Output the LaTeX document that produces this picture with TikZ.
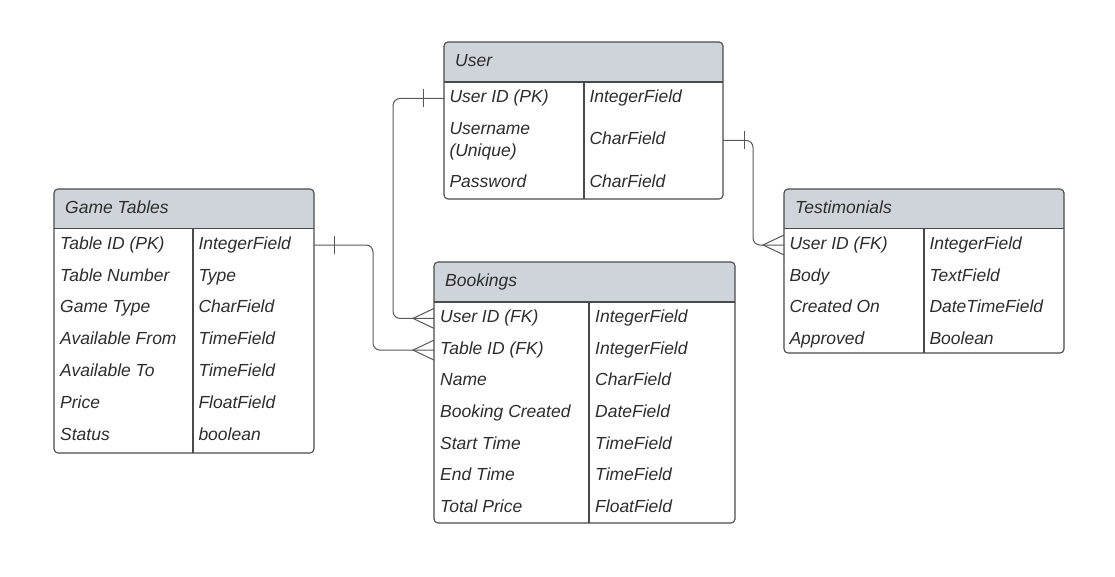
\documentclass[tikz,border=0pt]{standalone}
\usepackage{fontspec}
\setmainfont{Liberation Sans}
\usetikzlibrary{calc}

\definecolor{hdrfill}{RGB}{207,212,219}
\definecolor{boxline}{RGB}{74,74,74}
\definecolor{linkline}{RGB}{88,88,88}
\definecolor{txt}{RGB}{45,45,45}

\tikzset{
  tablebox/.style={rectangle, inner sep=0pt, outer sep=0pt},
  border/.style={draw=boxline, line width=1.1pt},
  cell/.style={anchor=west, inner sep=0pt, text height=12pt, text depth=3.5pt,
               text=txt, font=\fontsize{17.5}{21.5}\selectfont\itshape},
  multicell/.style={anchor=base west, inner sep=0pt, align=left,
               text=txt, font=\fontsize{17.5}{21.5}\selectfont\itshape},
  link/.style={draw=linkline, line width=1pt, rounded corners=7pt},
}

% one entity box: name, NW corner, width, height, header height, divider offset, title
\newcommand\ertable[7]{%
  \node[tablebox, minimum width=#3, minimum height=#4, anchor=north west] (#1) at #2 {};
  \begin{scope}
    \clip[rounded corners=4pt] (#1.north west) rectangle (#1.south east);
    \fill[hdrfill] (#1.north west) rectangle ([yshift=-#5]#1.north east);
  \end{scope}
  \draw[border] ([yshift=-#5]#1.north west) -- ([yshift=-#5]#1.north east);
  \draw[border] ([xshift=#6,yshift=-#5]#1.north west) -- ([xshift=#6]#1.south west);
  \draw[border, rounded corners=4pt] (#1.north west) rectangle (#1.south east);
  \node[cell] (#1-title) at ([xshift=11pt,yshift=-20pt]#1.north west) {#7};
}

% one attribute row: name, field x, type x, y, field, type
\newcommand\errow[6]{%
  \node[cell] (#1) at (#2,#4) {#5};
  \node[cell] (#1-type) at (#3,#4) {#6};
}

% many-side end of a relationship, ending at the given coordinate
\newcommand\crowsfoot[1]{%
  \draw[link, rounded corners=0pt] ([yshift=10pt]#1) -- ([xshift=-21pt]#1) -- ([yshift=-10pt]#1);
}
% one-side bar, drawn across a connector at the given coordinate
\newcommand\onebar[1]{%
  \draw[link, rounded corners=0pt] ([yshift=9pt]#1) -- ([yshift=-9pt]#1);
}

\begin{document}
\begin{tikzpicture}[x=1pt,y=-1pt]
\useasboundingbox (0,0) rectangle (1115,577);
\fill[white] (0,0) rectangle (1115,577);

% ---------- User ----------
\ertable{user}{(444,42)}{279pt}{157pt}{40pt}{140pt}{User}
\errow{u1}{449.3}{589.3}{98.5}{User ID (PK)}{IntegerField}
% base anchor of a two-line node sits on its last line
\node[multicell] (u2) at (449.3,156.1) {Username\\(Unique)};
\node[cell] (u2-type) at (589.3,140.4) {CharField};
\errow{u3}{449.3}{589.3}{183.4}{Password}{CharField}

% ---------- Game Tables ----------
\ertable{games}{(54,189)}{260pt}{264pt}{39.5pt}{139pt}{Game Tables}
\errow{g1}{60}{198.3}{245}{Table ID (PK)}{IntegerField}
\errow{g2}{60}{198.3}{276.8}{Table Number}{Type}
\errow{g3}{60}{198.3}{308.6}{Game Type}{CharField}
\errow{g4}{60}{198.3}{340.4}{Available From}{TimeField}
\errow{g5}{60}{198.3}{372.2}{Available To}{TimeField}
\errow{g6}{60}{198.3}{404}{Price}{FloatField}
\errow{g7}{60}{198.3}{435.8}{Status}{boolean}

% ---------- Bookings ----------
\ertable{bookings}{(434,262)}{301pt}{261pt}{40pt}{155pt}{Bookings}
\errow{b1}{440}{595}{318.4}{User ID (FK)}{IntegerField}
\errow{b2}{440}{595}{350.1}{Table ID (FK)}{IntegerField}
\errow{b3}{440}{595}{381.7}{Name}{CharField}
\errow{b4}{440}{595}{413.4}{Booking Created}{DateField}
\errow{b5}{440}{595}{445.1}{Start Time}{TimeField}
\errow{b6}{440}{595}{476.7}{End Time}{TimeField}
\errow{b7}{440}{595}{508.4}{Total Price}{FloatField}

% ---------- Testimonials ----------
\ertable{testi}{(784,189)}{280pt}{164pt}{39.5pt}{140pt}{Testimonials}
\errow{t1}{789.3}{929.3}{245}{User ID (FK)}{IntegerField}
\errow{t2}{789.3}{929.3}{276.8}{Body}{TextField}
\errow{t3}{789.3}{929.3}{308.6}{Created On}{DateTimeField}
\errow{t4}{789.3}{929.3}{340.4}{Approved}{Boolean}

% ---------- Relationships ----------
% User 1 -- N Bookings
\coordinate (uOut) at (user.west |- u1);
\coordinate (bIn1) at (bookings.west |- b1);
\coordinate (uBar) at ([xshift=-21pt]uOut);
\draw[link] (uOut) -| ([xshift=-41pt]bIn1) -- (bIn1);
\onebar{uBar}
\crowsfoot{bIn1}

% Game Tables 1 -- N Bookings
\coordinate (gOut) at (games.east |- g1);
\coordinate (bIn2) at (bookings.west |- b2);
\coordinate (gBar) at ([xshift=20pt]gOut);
\draw[link] (gOut) -| ([xshift=-61pt]bIn2) -- (bIn2);
\onebar{gBar}
\crowsfoot{bIn2}

% User 1 -- N Testimonials
\coordinate (uOut2) at (user.east |- u2-type);
\coordinate (tIn) at (testi.west |- t1);
\coordinate (uBar2) at ([xshift=21pt]uOut2);
\draw[link] (uOut2) -| ([xshift=-31pt]tIn) -- (tIn);
\onebar{uBar2}
\crowsfoot{tIn}
\end{tikzpicture}
\end{document}
